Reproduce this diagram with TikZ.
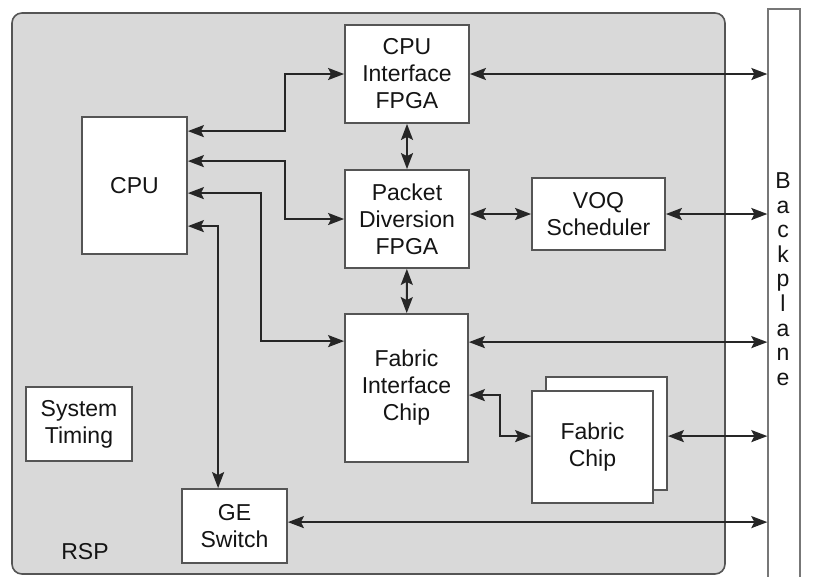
\documentclass[tikz,border=0pt]{standalone}
\usepackage{fontspec}
\setmainfont{Liberation Sans}
\usepackage{tikz}
\usetikzlibrary{calc,arrows.meta}
\definecolor{panel}{HTML}{D9D9D9}
\definecolor{edge}{HTML}{555555}
\definecolor{wire}{HTML}{262626}
\definecolor{ink}{HTML}{141414}
\tikzset{
  rsp/.style={draw=edge, fill=panel, line width=1.6pt, rounded corners=10pt},
  blk/.style={draw=edge, fill=white, line width=1.8pt, inner sep=0pt, align=center, text=ink, font=\fontsize{23}{27}\selectfont},
  plane/.style={draw=edge!80, fill=white, line width=1.3pt, inner sep=0pt, minimum width=32pt, minimum height=600pt},
  tip/.tip={Stealth[length=16pt,width=12pt,inset=3pt]},
  link/.style={draw=wire, line width=2pt, tip-tip},
  lab/.style={text=ink, font=\fontsize{23}{27}\selectfont, align=center},
}

\begin{document}
\begin{tikzpicture}[x=1pt,y=-1pt]
  \useasboundingbox (0,0) rectangle (814,576);
  \draw[rsp] (12,13) rectangle (725,574);
  \node[plane] (bp) at (784,309) {};
  \node[lab, font=\fontsize{23}{24.6}\selectfont] (bplab) at (783,279) {B\\a\\c\\k\\p\\l\\a\\n\\e};

  \node[blk, minimum width=105pt, minimum height=137pt] (cpu) at (134.5,185.5) {CPU};
  \node[blk, minimum width=124pt, minimum height=98pt] (cpuif) at (407,74) {CPU\\Interface\\FPGA};
  \node[blk, minimum width=124pt, minimum height=98pt] (pd) at (407,219) {Packet\\Diversion\\FPGA};
  \node[blk, minimum width=123pt, minimum height=148pt] (fic) at (406.5,388) {Fabric\\Interface\\Chip};
  \node[blk, minimum width=133pt, minimum height=72pt] (voq) at (598.5,214) {VOQ\\Scheduler};
  \node[blk, minimum width=121pt, minimum height=113pt] (fabback) at (606.5,433.5) {};
  \node[blk, minimum width=121pt, minimum height=112pt] (fab) at (592.5,447) {Fabric\\Chip};
  \node[blk, minimum width=106pt, minimum height=74pt] (timing) at (79,424) {System\\Timing};
  \node[blk, minimum width=105pt, minimum height=74pt] (ge) at (234.5,526) {GE\\Switch};
  \node[lab] (rsplab) at (85,552) {RSP};

  % CPU side
  \draw[link] ([yshift=-15pt]cpu.north east) -- ++(97,0) |- (cpuif);
  \draw[link] ([yshift=-45pt]cpu.north east) -- ++(97,0) |- (pd);
  \draw[link] ([yshift=-77pt]cpu.north east) -- ++(73,0) |- ([yshift=-28pt]fic.north west);
  \draw[link] ([yshift=-110pt]cpu.north east) -| ([xshift=37pt]ge.north west);

  \draw[link] (cpuif) -- (pd);
  \draw[link] (pd) -- (fic);
  \draw[link] (voq.west -| pd.east) -- (voq);
  \draw[link] ([yshift=-82pt]fic.north east) -- ++(31,0) |- ([yshift=-46pt]fab.north west);

  % to the backplane
  \coordinate (ficp) at ([yshift=-29pt]fic.north east);
  \coordinate (fabp) at ([yshift=-60pt]fabback.north east);
  \coordinate (gep) at ([yshift=-34pt]ge.north east);
  \draw[link] (cpuif) -- (cpuif -| bp.west);
  \draw[link] (voq) -- (voq -| bp.west);
  \draw[link] (ficp) -- (ficp -| bp.west);
  \draw[link] (fabp) -- (fabp -| bp.west);
  \draw[link] (gep) -- (gep -| bp.west);
\end{tikzpicture}
\end{document}
